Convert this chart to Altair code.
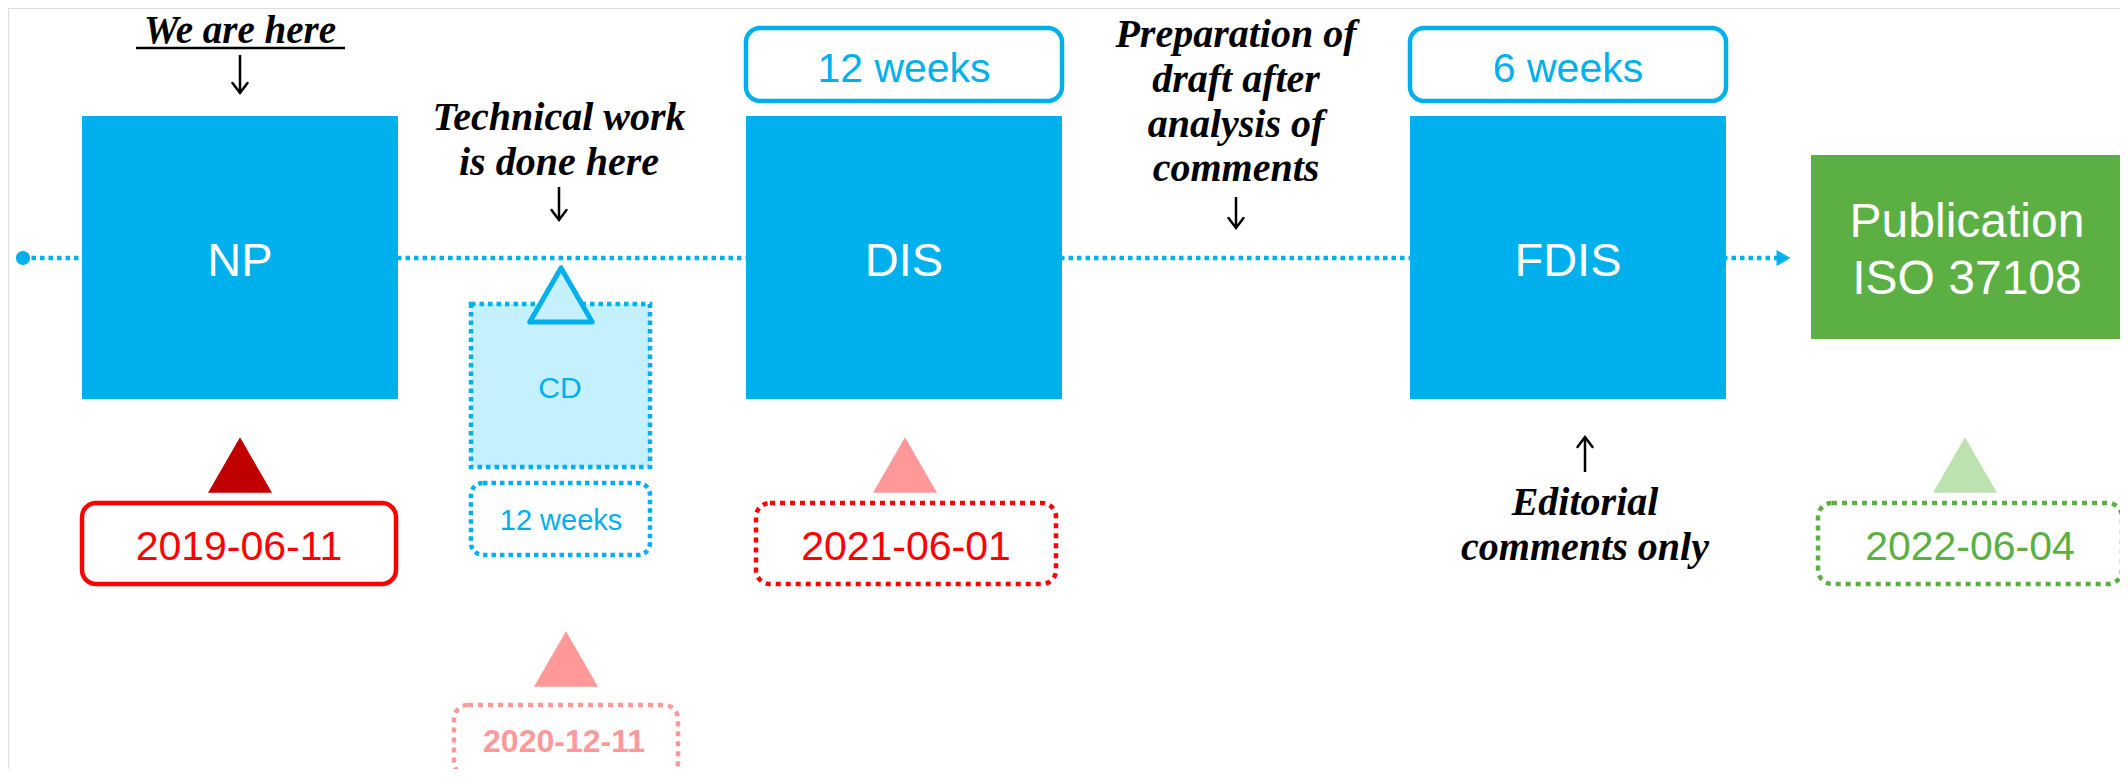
import altair as alt
import pandas as pd

# ---------------- data ----------------
stage_labels = ["NP", "DIS", "FDIS"]
final_label_lines = ["Publication", "ISO 37108"]
stage_durations = ["12 weeks", "6 weeks"]          # above DIS, FDIS
milestone_dates = ["2019-06-11", "2021-06-01", "2022-06-04"]   # NP, DIS, Publication
cd_label = "CD"
cd_duration = "12 weeks"
cd_date = "2020-12-11"
note_here = ["We are here"]
note_technical = ["Technical work", "is done here"]
note_preparation = ["Preparation of", "draft after", "analysis of", "comments"]
note_editorial = ["Editorial", "comments only"]

# ---------------- styles ----------------
BLUE = "#00B0EC"
GREEN = "#5BAF43"
LIGHT_BLUE = "#C5F0FD"
DATE_STROKE = ["#FF0000", "#FF0000", "#5BAF43"]
DATE_TEXT = ["#FF0000", "#FF0000", "#5BAF43"]
TRI_FILL = ["#C00000", "#FF9999", "#BCE2B0"]
CD_DATE_COLOR = "#FF9999"
SANS = "Liberation Sans"
SERIF = "Liberation Serif"

# ---------------- layout (pixel frame of the page) ----------------
LINE_Y = 258
stage_x = [(82, 398), (746, 1062), (1410, 1726)]
final_box = (1811, 2123, 155, 339)
box_top, box_bot = 116, 399
dur_box_y = (28, 101)
date_box = [(82, 396), (756, 1056), (1818, 2122)]
date_box_y = (503, 584)
tri_y = 465
cd_box = (471, 650, 304, 467)
cd_dur_box = (471, 650, 483, 555)
cd_date_box = (454, 678, 705, 776)
cd_cx = 561

xs = alt.Scale(domain=[8, 2120], nice=False, zero=False)
ys = alt.Scale(domain=[8, 769], nice=False, zero=False, reverse=True)


def X(f="x"):
    return alt.X(f"{f}:Q", scale=xs, axis=None)


def Y(f="y"):
    return alt.Y(f"{f}:Q", scale=ys, axis=None)


# timeline
timeline = alt.Chart(pd.DataFrame({"x": [23], "x2": [1777], "y": [LINE_Y]})).mark_rule(
    color=BLUE, strokeWidth=4.5, strokeDash=[4.5, 4]
).encode(x=X(), x2="x2:Q", y=Y())
start_dot = alt.Chart(pd.DataFrame({"x": [23], "y": [LINE_Y]})).mark_point(
    shape="circle", filled=True, size=200, color=BLUE, opacity=1
).encode(x=X(), y=Y())
arrow_head = alt.Chart(pd.DataFrame({"x": [1783.5], "y": [LINE_Y]})).mark_point(
    shape="triangle-right", filled=True, size=260, color=BLUE, opacity=1
).encode(x=X(), y=Y())

# main boxes
main_df = pd.DataFrame({
    "label": stage_labels + [" ".join(final_label_lines)],
    "x": [s[0] for s in stage_x] + [final_box[0]],
    "x2": [s[1] for s in stage_x] + [final_box[1]],
    "y": [box_top] * 3 + [final_box[2]],
    "y2": [box_bot] * 3 + [final_box[3]],
    "c": [BLUE] * 3 + [GREEN],
})
main_boxes = alt.Chart(main_df).mark_rect().encode(
    x=X(), x2="x2:Q", y=Y(), y2="y2:Q", color=alt.Color("c:N", scale=None)
)

# duration boxes above DIS and FDIS
dur_df = pd.DataFrame({
    "label": stage_durations,
    "x": [stage_x[1][0], stage_x[2][0]],
    "x2": [stage_x[1][1], stage_x[2][1]],
    "y": [dur_box_y[0]] * 2,
    "y2": [dur_box_y[1]] * 2,
})
dur_boxes = alt.Chart(dur_df).mark_rect(
    fill="white", stroke=BLUE, strokeWidth=4.5, cornerRadius=14
).encode(x=X(), x2="x2:Q", y=Y(), y2="y2:Q")

# CD box and its duration box
cd_df = pd.DataFrame({"x": [cd_box[0]], "x2": [cd_box[1]], "y": [cd_box[2]], "y2": [cd_box[3]]})
cd_rect = alt.Chart(cd_df).mark_rect(
    fill=LIGHT_BLUE, stroke=BLUE, strokeWidth=4.5, strokeDash=[4.5, 4]
).encode(x=X(), x2="x2:Q", y=Y(), y2="y2:Q")
cd_dur_df = pd.DataFrame({"x": [cd_dur_box[0]], "x2": [cd_dur_box[1]], "y": [cd_dur_box[2]], "y2": [cd_dur_box[3]]})
cd_dur_rect = alt.Chart(cd_dur_df).mark_rect(
    fill="white", stroke=BLUE, strokeWidth=4.5, strokeDash=[4.5, 4], cornerRadius=12
).encode(x=X(), x2="x2:Q", y=Y(), y2="y2:Q")

# date boxes
np_date_df = pd.DataFrame({"x": [date_box[0][0]], "x2": [date_box[0][1]],
                           "y": [date_box_y[0]], "y2": [date_box_y[1]]})
np_date_rect = alt.Chart(np_date_df).mark_rect(
    fill="white", stroke=DATE_STROKE[0], strokeWidth=4.5, cornerRadius=14
).encode(x=X(), x2="x2:Q", y=Y(), y2="y2:Q")

dotted_date_df = pd.DataFrame({
    "x": [date_box[1][0], date_box[2][0], cd_date_box[0]],
    "x2": [date_box[1][1], date_box[2][1], cd_date_box[1]],
    "y": [date_box_y[0], date_box_y[0], cd_date_box[2]],
    "y2": [date_box_y[1], date_box_y[1], cd_date_box[3]],
    "c": [DATE_STROKE[1], DATE_STROKE[2], CD_DATE_COLOR],
})
dotted_date_rects = alt.Chart(dotted_date_df).mark_rect(
    fill="white", strokeWidth=4.5, strokeDash=[5, 5], cornerRadius=14
).encode(x=X(), x2="x2:Q", y=Y(), y2="y2:Q", stroke=alt.Stroke("c:N", scale=None))

# milestone triangles
tri_df = pd.DataFrame({
    "x": [240, 905, 1965, 566],
    "y": [tri_y, tri_y, tri_y, 659],
    "c": [TRI_FILL[0], "#FF9999", TRI_FILL[2], "#FF9999"],
})
triangles = alt.Chart(tri_df).mark_point(
    shape="triangle-up", filled=True, size=4096, opacity=1
).encode(x=X(), y=Y(), color=alt.Color("c:N", scale=None))

cd_tri = alt.Chart(pd.DataFrame({"x": [cd_cx], "y": [295]})).mark_point(
    shape="triangle-up", filled=True, size=3900, fill=LIGHT_BLUE, stroke=BLUE,
    strokeWidth=5, strokeJoin="round", opacity=1, fillOpacity=1, strokeOpacity=1
).encode(x=X(), y=Y())

# sans texts
sans_df = pd.DataFrame({
    "t": stage_labels + final_label_lines + stage_durations + milestone_dates + [cd_label, cd_duration],
    "x": [240, 904, 1568, 1967, 1967, 904, 1568, 239, 906, 1970, 560, 561],
    "y": [276, 276, 276, 237, 294, 82, 82, 560, 560, 560, 398, 530],
    "fs": [47, 47, 47, 48, 48, 41, 41, 41, 41, 41, 30, 29],
    "c": ["white"] * 5 + [BLUE, BLUE] + DATE_TEXT + [BLUE, BLUE],
})
sans_text = alt.Chart(sans_df).mark_text(
    font=SANS, baseline="alphabetic", align="center"
).encode(x=X(), y=Y(), text="t:N", size=alt.Size("fs:Q", scale=None),
         color=alt.Color("c:N", scale=None))

bold_df = pd.DataFrame({"t": [cd_date], "x": [564], "y": [752]})
bold_text = alt.Chart(bold_df).mark_text(
    font=SANS, fontWeight="bold", baseline="alphabetic", align="center", fontSize=32,
    color=CD_DATE_COLOR
).encode(x=X(), y=Y(), text="t:N")

# serif italic notes
notes_df = pd.DataFrame({
    "t": note_here + note_technical + note_preparation + note_editorial,
    "x": [240] + [559] * 2 + [1236] * 4 + [1585] * 2,
    "y": [43, 130, 175, 47, 92, 137, 181, 515, 560],
    "fs": [39, 40, 40, 40, 40, 40, 40, 40, 40],
})
notes_text = alt.Chart(notes_df).mark_text(
    font=SERIF, fontStyle="italic", fontWeight="bold",
    baseline="alphabetic", align="center", color="black"
).encode(x=X(), y=Y(), text="t:N", size=alt.Size("fs:Q", scale=None))

underline = alt.Chart(pd.DataFrame({"x": [136], "x2": [345], "y": [48]})).mark_rule(
    color="black", strokeWidth=2.5
).encode(x=X(), x2="x2:Q", y=Y())

# pointer arrows (shaft + open head)
arrow_x = [240, 559, 1236, 1585]
arrow_top = [55, 187, 197, 437]
arrow_bot = [93, 220, 228, 472]
arrow_dir = ["down", "down", "down", "up"]
shaft_df = pd.DataFrame({"x": arrow_x, "y": arrow_top, "y2": arrow_bot})
shafts = alt.Chart(shaft_df).mark_rule(color="black", strokeWidth=2.5).encode(
    x=X(), y=Y(), y2="y2:Q"
)
down_df = pd.DataFrame({
    "x": [x for x, d in zip(arrow_x, arrow_dir) if d == "down"],
    "y": [b for b, d in zip(arrow_bot, arrow_dir) if d == "down"],
})
up_df = pd.DataFrame({
    "x": [x for x, d in zip(arrow_x, arrow_dir) if d == "up"],
    "y": [t for t, d in zip(arrow_top, arrow_dir) if d == "up"],
})
down_heads = alt.Chart(down_df).mark_point(
    shape="M-0.75,-1L0,0L0.75,-1", filled=False, size=400, stroke="black",
    strokeWidth=2.5, opacity=1, strokeCap="round", strokeJoin="miter"
).encode(x=X(), y=Y())
up_heads = alt.Chart(up_df).mark_point(
    shape="M-0.75,1L0,0L0.75,1", filled=False, size=400, stroke="black",
    strokeWidth=2.5, opacity=1, strokeCap="round", strokeJoin="miter"
).encode(x=X(), y=Y())

chart = alt.layer(
    timeline, start_dot, arrow_head, main_boxes, dur_boxes, cd_rect, cd_dur_rect,
    np_date_rect, dotted_date_rects, triangles, cd_tri, sans_text, bold_text,
    notes_text, underline, shafts, down_heads, up_heads
).properties(
    width=2112, height=761, padding=0, autosize="none"
).configure_view(strokeWidth=0).configure(background="white")

chart.save("out.html", embed_options={"renderer": "svg", "actions": False})
